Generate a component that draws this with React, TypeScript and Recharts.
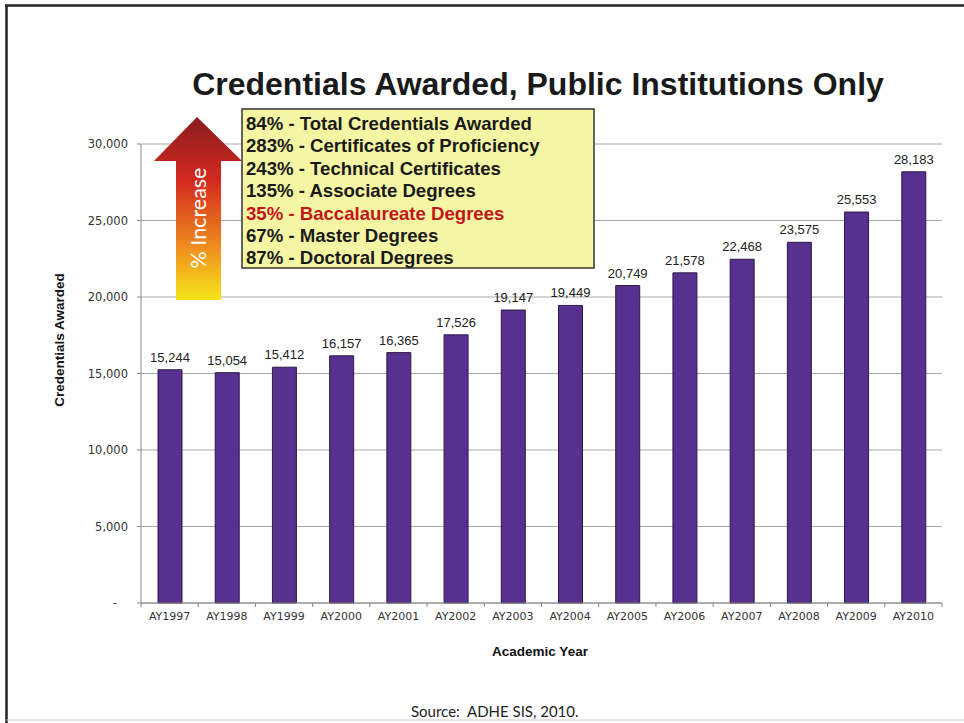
import { BarChart, Bar, XAxis, YAxis, CartesianGrid, LabelList } from 'recharts';

// academic years and total credentials awarded (public institutions)
const years = ['AY1997', 'AY1998', 'AY1999', 'AY2000', 'AY2001', 'AY2002', 'AY2003', 'AY2004', 'AY2005', 'AY2006', 'AY2007', 'AY2008', 'AY2009', 'AY2010'];
const awarded = [15244, 15054, 15412, 16157, 16365, 17526, 19147, 19449, 20749, 21578, 22468, 23575, 25553, 28183];
const yTicks = [0, 5000, 10000, 15000, 20000, 25000, 30000];

// % increase callout
const increaseLines = [
    '84% - Total Credentials Awarded',
    '283% - Certificates of Proficiency',
    '243% - Technical Certificates',
    '135% - Associate Degrees',
    '35% - Baccalaureate Degrees',
    '67% - Master Degrees',
    '87% - Doctoral Degrees'
];
const highlightIndex = 4;

const data = years.map((year, i) => ({ year, value: awarded[i] }));

const fmt = (v: number) => v.toLocaleString('en-US');

const TICK_SIZE = 5;
const TICK_MARGIN = 4;

const YTick = ({ x, y, payload }: any) => (
    <text
        x={payload.value === 0 ? x - 11 : x}
        y={y}
        dy="0.35em"
        textAnchor="end"
        fontSize={11.5}
        fontFamily="DejaVu Sans"
        fill="#333"
    >
        {payload.value === 0 ? '-' : fmt(payload.value)}
    </text>
);

// category label plus the small tick marks between categories
const XTick = ({ x, y, payload, index }: any) => {
    const off = payload.offset || 28.6;
    const axisY = y - TICK_SIZE - TICK_MARGIN;
    return (
        <g>
            <line x1={x - off} x2={x - off} y1={axisY} y2={axisY + 4} stroke="#888" />
            {index === years.length - 1 && (
                <line x1={x + off} x2={x + off} y1={axisY} y2={axisY + 4} stroke="#888" />
            )}
            <text x={x} y={y} dy="0.71em" textAnchor="middle" fontSize={11} fontFamily="DejaVu Sans" fill="#333">
                {payload.value}
            </text>
        </g>
    );
};

const Callouts = () => (
    <svg width={964} height={723} style={{ position: 'absolute', left: 0, top: 0, pointerEvents: 'none' }}>
        <defs>
            <linearGradient id="arrowGrad" x1="0" y1="0" x2="0" y2="1">
                <stop offset="0%" stopColor="#8a1c1f" />
                <stop offset="35%" stopColor="#d42a1e" />
                <stop offset="70%" stopColor="#ee8a1e" />
                <stop offset="100%" stopColor="#f6e51a" />
            </linearGradient>
        </defs>
        {/* page frame */}
        <line x1={5} x2={964} y1={5.5} y2={5.5} stroke="#222" strokeWidth={2.5} />
        <line x1={6.5} x2={6.5} y1={5} y2={723} stroke="#222" strokeWidth={2.5} />
        <line x1={6} x2={964} y1={720} y2={720} stroke="#ccc" strokeWidth={1} />

        <text x={538} y={95} textAnchor="middle" fontSize={32} fontWeight="bold" fontFamily="Liberation Sans, Arial" fill="#1a1a1a">
            Credentials Awarded, Public Institutions Only
        </text>

        <polygon points="197,117 242,161 221,161 221,300 176,300 176,161 154,161" fill="url(#arrowGrad)" />
        <text
            x={0}
            y={0}
            transform="translate(206,218) rotate(-90)"
            textAnchor="middle"
            fontSize={21.5}
            fontFamily="Lato, Open Sans"
            fill="#fff"
        >
            % Increase
        </text>

        <rect x={242} y={109} width={352} height={159} fill="#f5f6a3" stroke="#333" strokeWidth={1.5} />
        {increaseLines.map((t, i) => (
            <text
                key={t}
                x={246}
                y={130 + i * 22.4}
                fontSize={18.6}
                fontWeight="bold"
                fontFamily="Liberation Sans, Arial"
                fill={i === highlightIndex ? '#c3161c' : '#1a1a1a'}
            >
                {t}
            </text>
        ))}

        <text x={0} y={0} transform="translate(64,340) rotate(-90)" textAnchor="middle" fontSize={13.5} fontWeight="bold" fontFamily="Liberation Sans, Arial" fill="#111">
            Credentials Awarded
        </text>
        <text x={540} y={656} textAnchor="middle" fontSize={13.5} fontWeight="bold" fontFamily="Liberation Sans, Arial" fill="#111">
            Academic Year
        </text>
        <text x={411} y={717} fontSize={15} fontFamily="Lato, Open Sans" fill="#222">
            {'Source:\u00a0\u00a0ADHE SIS, 2010.'}
        </text>
    </svg>
);

export default function App() {
    return (
        <div style={{ position: 'absolute', left: 0, top: 0, width: 964, height: 723, background: '#fff' }}>
            <BarChart
                width={964}
                height={723}
                data={data}
                margin={{ top: 144, right: 22, bottom: 90, left: 81 }}
                barSize={24}
            >
                <CartesianGrid vertical={false} stroke="#a8a8a8" />
                <XAxis
                    dataKey="year"
                    height={30}
                    stroke="#888"
                    tickLine={false}
                    tickSize={TICK_SIZE}
                    tickMargin={TICK_MARGIN}
                    interval={0}
                    tick={<XTick />}
                />
                <YAxis
                    width={60}
                    domain={[0, 30000]}
                    ticks={yTicks}
                    stroke="#888"
                    tickSize={4}
                    tickMargin={9}
                    tick={<YTick />}
                />
                <YAxis yAxisId="right" orientation="right" width={0} stroke="#bbb" tick={false} tickLine={false} />
                <Bar dataKey="value" fill="#58308f" stroke="#2b1a44" strokeWidth={1} isAnimationActive={false}>
                    <LabelList
                        dataKey="value"
                        position="top"
                        offset={8}
                        formatter={(v: any) => fmt(v)}
                        style={{ fontSize: 13, fontFamily: 'Liberation Sans, Arial', fill: '#222' }}
                    />
                </Bar>
            </BarChart>
            <Callouts />
        </div>
    );
}
